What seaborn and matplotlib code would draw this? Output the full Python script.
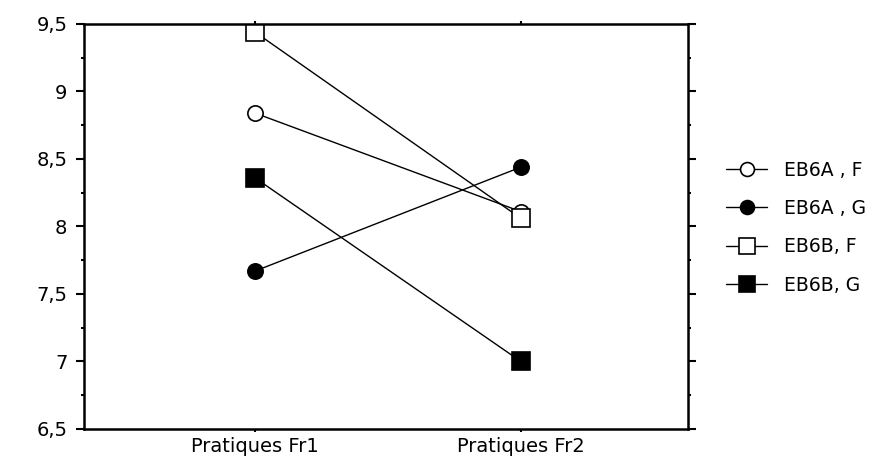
import matplotlib
matplotlib.use("Agg")
import matplotlib.pyplot as plt
import seaborn as sns
import pandas as pd
from matplotlib.ticker import FixedLocator, FuncFormatter, MultipleLocator
from matplotlib.lines import Line2D

categories = ["Pratiques Fr1", "Pratiques Fr2"]
series_names = ["EB6A , F", "EB6A , G", "EB6B, F", "EB6B, G"]
eb6a_f = [8.84, 8.11]
eb6a_g = [7.67, 8.44]
eb6b_f = [9.44, 8.06]
eb6b_g = [8.36, 7.00]
y_ticks = [6.5, 7, 7.5, 8, 8.5, 9, 9.5]

sns.set_theme(style="ticks")
plt.rcParams["font.family"] = ["DejaVu Sans"]
plt.rcParams["text.color"] = "black"

fig = plt.figure(figsize=(8.69, 4.66), dpi=100)
ax = fig.add_axes([0.0967, 0.0794, 0.695, 0.8691])

all_vals = [eb6a_f, eb6a_g, eb6b_f, eb6b_g]
styles = [
    dict(marker="o", markerfacecolor="white", markersize=11),
    dict(marker="o", markerfacecolor="black", markersize=11),
    dict(marker="s", markerfacecolor="white", markersize=12.5),
    dict(marker="s", markerfacecolor="black", markersize=12.5),
]
rows = []
for name, vals in zip(series_names, all_vals):
    for c, v in zip(categories, vals):
        rows.append({"cat": c, "val": v, "grp": name})
df = pd.DataFrame(rows)

for name, st in zip(series_names, styles):
    sub = df[df["grp"] == name]
    sns.lineplot(data=sub, x="cat", y="val", ax=ax, color="black", linewidth=1.0,
                 markeredgecolor="black", markeredgewidth=1.2, **st, legend=False)

ax.set_xlim(-0.643, 1.628)
ax.set_ylim(6.5, 9.5)
ax.yaxis.set_major_locator(FixedLocator(y_ticks))
ax.yaxis.set_minor_locator(MultipleLocator(0.25))
ax.yaxis.set_major_formatter(FuncFormatter(lambda v, p: (f"{v:g}").replace(".", ",")))
ax.set_xlabel("")
ax.set_ylabel("")

for s in ax.spines.values():
    s.set_visible(True)
    s.set_color("black")
    s.set_linewidth(1.8)

ax.tick_params(axis="both", which="both", direction="out", color="black",
               top=True, right=True, labelcolor="black")
ax.tick_params(axis="y", which="major", length=6, width=1.5, labelsize=14, pad=6)
ax.tick_params(axis="y", which="minor", length=2.5, width=1.5)
ax.tick_params(axis="x", which="major", length=2.5, width=1.5, labelsize=14, pad=3)

leg_styles = [dict(st, markersize=st["markersize"] - 1) for st in styles]
handles = [Line2D([0], [0], color="black", linewidth=1.0, markeredgecolor="black",
                  markeredgewidth=1.2, **st) for st in leg_styles]
leg = ax.legend(handles, series_names, loc="center left", bbox_to_anchor=(1.035, 0.497),
                frameon=False, fontsize=13.5, handlelength=2.2, labelspacing=1.03,
                handletextpad=0.9)
for t in leg.get_texts():
    t.set_color("black")

fig.savefig("out.png", dpi=100)
